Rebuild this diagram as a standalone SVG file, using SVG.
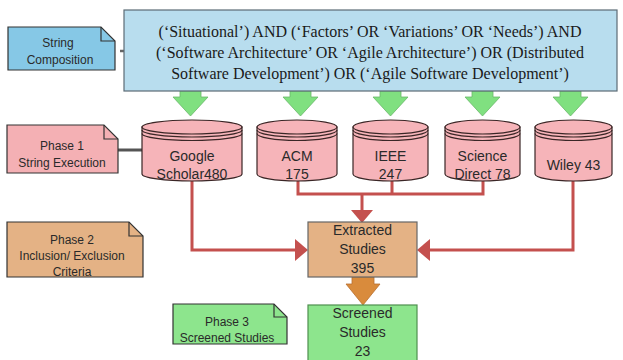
<svg xmlns="http://www.w3.org/2000/svg" width="623" height="360" viewBox="0 0 623 360">
<defs>
<style>
.sans{font-family:"Liberation Sans",Arial,sans-serif;fill:#2a2a2a;text-anchor:middle}
.f12{font-size:12px}
.f14{font-size:14px}
.serif{font-family:"Liberation Serif","Times New Roman",serif;font-size:16px;fill:#1a1a1a;text-anchor:middle}
.cyl{fill:#F6B4B9;stroke:#3a2626;stroke-width:1.2}
.cylline{fill:none;stroke:#3a2626;stroke-width:1.2}
.red{fill:none;stroke:#C4504E;stroke-width:3}
.garrow{fill:#80E080;stroke:#6ab86a;stroke-width:0.8}
.note{stroke:#333;stroke-width:1.2}
</style>
<marker id="ah" markerUnits="userSpaceOnUse" markerWidth="13" markerHeight="22" refX="6" refY="11" orient="auto">
<path d="M0,0 L13,11 L0,22 Z" fill="#C4504E"/>
</marker>
</defs>
<rect width="623" height="360" fill="#ffffff"/>

<g id="connectors">
<line x1="118" y1="150" x2="142" y2="150" stroke="#555" stroke-width="3"/>
<line x1="120" y1="51" x2="124" y2="51" stroke="#666" stroke-width="2.5"/>
<path class="red" d="M192,181 V250 H301" marker-end="url(#ah)"/>
<path class="red" d="M573,181 V250 H424" marker-end="url(#ah)"/>
<path class="red" d="M298,181 V194 H483 V181 M392,181 V194"/>
<path class="red" d="M362,194 V216" marker-end="url(#ah)"/>
<g id="green-arrows">
<path class="garrow" d="M180,91 H201 V97 H208 L190.5,116 L173,97 H180 Z"/>
<path class="garrow" d="M290,91 H311 V97 H318 L300.5,116 L283,97 H290 Z"/>
<path class="garrow" d="M380,91 H401 V97 H408 L390.5,116 L373,97 H380 Z"/>
<path class="garrow" d="M472,91 H493 V97 H500 L482.5,116 L465,97 H472 Z"/>
<path class="garrow" d="M560,91 H581 V97 H588 L570.5,116 L553,97 H560 Z"/>
</g>
<path d="M352,277 H374 V284 H380 L363,305 L346,284 H352 Z" fill="#D98B3C" stroke="#b87030" stroke-width="0.8"/>
</g>

<g id="query">
<rect x="124" y="10" width="493" height="81" fill="#B8DDEE" stroke="#5c6c76" stroke-width="1.2"/>
<text class="serif" x="370" y="37">(‘Situational’) AND (‘Factors’ OR ‘Variations’ OR ‘Needs’) AND</text>
<text class="serif" x="370" y="58">(‘Software Architecture’ OR ‘Agile Architecture’) OR (Distributed</text>
<text class="serif" x="370" y="79">Software Development’) OR (‘Agile Software Development’)</text>
</g>

<g id="note-string">
<path class="note" d="M8,27 H101 L115,41 V70 H8 Z" fill="#86C8E6"/>
<path class="note" d="M101,27 V41 H115" fill="none"/>
<text class="sans f12" x="58" y="47">String</text>
<text class="sans f12" x="60" y="64">Composition</text>
</g>

<g id="note-phase1">
<path class="note" d="M7,125 H104 L118,139 V173 H7 Z" fill="#F4B0B4"/>
<path class="note" d="M104,125 V139 H118" fill="none"/>
<text class="sans f12" x="62" y="150">Phase 1</text>
<text class="sans f12" x="62" y="167">String Execution</text>
</g>

<g id="note-phase2">
<path class="note" d="M7,222 H129 L143,236 V277 H7 Z" fill="#E4B285"/>
<path class="note" d="M129,222 V236 H143" fill="none"/>
<text class="sans f12" x="72" y="244">Phase 2</text>
<text class="sans f12" x="72" y="260">Inclusion/ Exclusion</text>
<text class="sans f12" x="72" y="276">Criteria</text>
</g>

<g id="note-phase3">
<path class="note" d="M173,304 H274 L287,317 V344 H173 Z" fill="#8DE58D"/>
<path class="note" d="M274,304 V317 H287" fill="none"/>
<text class="sans f12" x="227" y="326">Phase 3</text>
<text class="sans f12" x="227" y="342">Screened Studies</text>
</g>

<g id="db-google">
<path class="cyl" d="M142,127 V174 A50,7 0 0 0 242,174 V127 Z"/>
<ellipse class="cyl" cx="192" cy="127" rx="50" ry="7"/>
<path class="cylline" d="M142,130 A50,7 0 0 0 242,130 M142,133.5 A50,7 0 0 0 242,133.5"/>
<text class="sans f14" x="192" y="161">Google</text>
<text class="sans f14" x="192" y="179">Scholar480</text>
</g>

<g id="db-acm">
<path class="cyl" d="M257,127 V174 A40,7 0 0 0 337,174 V127 Z"/>
<ellipse class="cyl" cx="297" cy="127" rx="40" ry="7"/>
<path class="cylline" d="M257,130 A40,7 0 0 0 337,130 M257,133.5 A40,7 0 0 0 337,133.5"/>
<text class="sans f14" x="297" y="161">ACM</text>
<text class="sans f14" x="297" y="179">175</text>
</g>

<g id="db-ieee">
<path class="cyl" d="M353,127 V174 A37.5,7 0 0 0 428,174 V127 Z"/>
<ellipse class="cyl" cx="390.5" cy="127" rx="37.5" ry="7"/>
<path class="cylline" d="M353,130 A37.5,7 0 0 0 428,130 M353,133.5 A37.5,7 0 0 0 428,133.5"/>
<text class="sans f14" x="390.5" y="161">IEEE</text>
<text class="sans f14" x="390.5" y="179">247</text>
</g>

<g id="db-sciencedirect">
<path class="cyl" d="M445,127 V174 A37.5,7 0 0 0 520,174 V127 Z"/>
<ellipse class="cyl" cx="482.5" cy="127" rx="37.5" ry="7"/>
<path class="cylline" d="M445,130 A37.5,7 0 0 0 520,130 M445,133.5 A37.5,7 0 0 0 520,133.5"/>
<text class="sans f14" x="482.5" y="161">Science</text>
<text class="sans f14" x="482.5" y="179">Direct 78</text>
</g>

<g id="db-wiley">
<path class="cyl" d="M535,127 V174 A38.5,7 0 0 0 612,174 V127 Z"/>
<ellipse class="cyl" cx="573.5" cy="127" rx="38.5" ry="7"/>
<path class="cylline" d="M535,130 A38.5,7 0 0 0 612,130 M535,133.5 A38.5,7 0 0 0 612,133.5"/>
<text class="sans f14" x="573.5" y="170">Wiley 43</text>
</g>

<g id="extracted">
<rect x="308" y="222" width="109" height="55" fill="#E4B285" stroke="#666" stroke-width="1.2"/>
<text class="sans f14" x="362.5" y="235">Extracted</text>
<text class="sans f14" x="362.5" y="254">Studies</text>
<text class="sans f14" x="362.5" y="273">395</text>
</g>

<g id="screened">
<rect x="308" y="305" width="109" height="60" fill="#8DE58D" stroke="#4f8f4f" stroke-width="1.2"/>
<text class="sans f14" x="362.5" y="318">Screened</text>
<text class="sans f14" x="362.5" y="337">Studies</text>
<text class="sans f14" x="362.5" y="356">23</text>
</g>
</svg>
